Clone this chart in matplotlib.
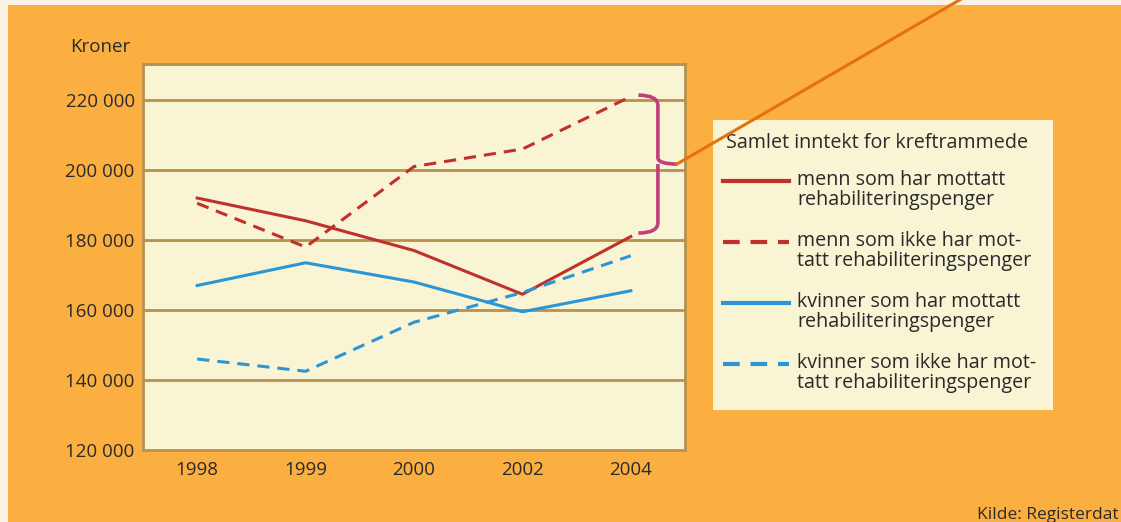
import matplotlib.pyplot as plt
from matplotlib.patches import Rectangle, PathPatch
from matplotlib.path import Path
from matplotlib.lines import Line2D

plt.rcParams['font.family'] = ['Open Sans', 'DejaVu Sans']

years = ['1998', '1999', '2000', '2002', '2004']
menn_mottatt = [192000, 185500, 177000, 164500, 181000]
menn_ikke = [190500, 178000, 201000, 206000, 221000]
kvinner_mottatt = [167000, 173500, 168000, 159500, 165500]
kvinner_ikke = [146000, 142500, 156500, 165000, 175500]
yticks = [120000, 140000, 160000, 180000, 200000, 220000]
labels = ['menn som har mottatt\nrehabiliteringspenger',
          'menn som ikke har mot-\ntatt rehabiliteringspenger',
          'kvinner som har mottatt\nrehabiliteringspenger',
          'kvinner som ikke har mot-\ntatt rehabiliteringspenger']

orange = '#FBAF41'
cream = '#F8F4D4'
brown = '#B8914E'
red = '#C1312C'
blue = '#2B96D6'
txt = '#2A2A2A'
fs = 13.5
fs_leg = 14.2
dash = (0, (4, 2.6))

W, H = 1121, 522
fig = plt.figure(figsize=(W / 100, H / 100), dpi=100, facecolor='#FAF1E4')
fig.patches.append(Rectangle((8 / W, 0), 1, 1 - 5 / H, transform=fig.transFigure,
                             facecolor=orange, edgecolor='none', zorder=-5))

ax = fig.add_axes([143 / W, 72 / H, 542 / W, 386 / H])
ax.set_facecolor(cream)
x = range(len(years))
styles = [(menn_mottatt, red, '-'), (menn_ikke, red, dash),
          (kvinner_mottatt, blue, '-'), (kvinner_ikke, blue, dash)]
for vals, c, ls in styles:
    ax.plot(x, vals, color=c, lw=2.2, ls=ls, zorder=3)

ax.set_xlim(-0.5, 4.5)
ax.set_ylim(120000, 230300)
ax.set_xticks(list(x))
ax.set_xticklabels(years)
ax.set_yticks(yticks)
ax.set_yticklabels([f'{v:,}'.replace(',', ' ') for v in yticks])
ax.tick_params(length=0, labelsize=fs, colors=txt, pad=6)
ax.tick_params(axis='x', pad=8)
for v in yticks[1:]:
    ax.axhline(v, color=brown, lw=2, zorder=1)
for s in ax.spines.values():
    s.set_color(brown)
    s.set_linewidth(2)
fig.text(100 / W, 1 - 47 / H, 'Kroner', fontsize=fs, color=txt, ha='center', va='center')

# curly brace over the men's 2004 values
bx0, bx1, bx2 = 4.07, 4.25, 4.43
ytop, ymid, ybot = 221400, 201700, 182000
brace = Path([(bx0, ytop), (bx1, ytop), (bx1, ytop - 3000),
              (bx1, ymid + 1800), (bx1, ymid), (bx2, ymid),
              (bx1, ymid), (bx1, ymid - 1800), (bx1, ymid - 3000),
              (bx1, ybot + 3000), (bx1, ybot), (bx0, ybot)],
             [Path.MOVETO, Path.CURVE3, Path.CURVE3,
              Path.LINETO, Path.CURVE3, Path.CURVE3,
              Path.MOVETO, Path.CURVE3, Path.CURVE3,
              Path.LINETO, Path.CURVE3, Path.CURVE3])
ax.add_patch(PathPatch(brace, facecolor='none', edgecolor='#C2407A', lw=2.6,
                       clip_on=False, zorder=5))

# legend box
fig.patches.append(Rectangle((713 / W, 1 - 410 / H), 340 / W, 290 / H,
                             transform=fig.transFigure, facecolor=cream,
                             edgecolor='none', zorder=1))
fig.text(726 / W, 1 - 143 / H, 'Samlet inntekt for kreftrammede', fontsize=fs_leg,
         color=txt, va='center', ha='left')
for i, (lab, (vals, c, ls)) in enumerate(zip(labels, styles)):
    y0 = 181 + 61 * i
    fig.add_artist(Line2D([723 / W, 789 / W], [1 - y0 / H] * 2, color=c, lw=3, ls=ls))
    fig.text(797 / W, 1 - (y0 - 11) / H, lab, fontsize=fs_leg, color=txt,
             va='top', ha='left', linespacing=1.0)

# pointer line from the brace out of the figure
fig.add_artist(Line2D([677 / W, 975 / W], [1 - 164 / H, 1 + 9 / H],
                      color='#E5700E', lw=2.2, zorder=10))

fig.text(977 / W, 1 - 515 / H, 'Kilde: Registerdat', fontsize=12.5, color=txt,
         ha='left', va='center')

fig.savefig('out.png', dpi=100, facecolor=fig.get_facecolor())
